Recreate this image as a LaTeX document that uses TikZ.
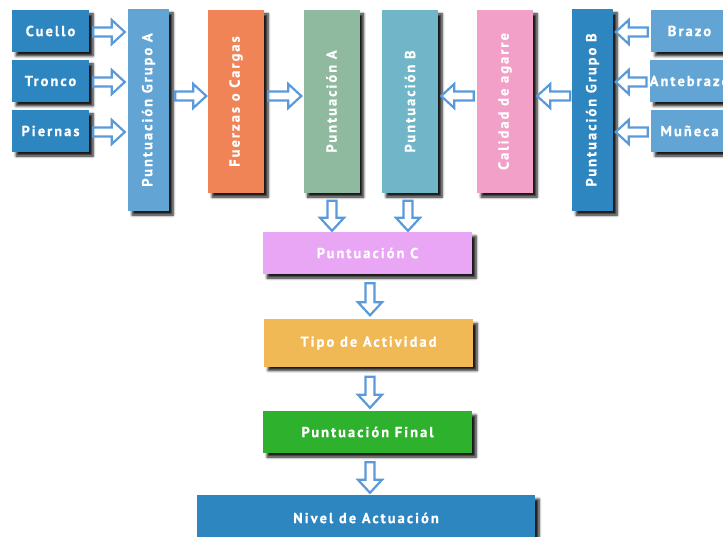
\documentclass[tikz,border=0pt]{standalone}
\usepackage{fontspec}
\newfontfamily\lblfont{PT Sans}[LetterSpace=14, BoldFeatures={FakeBold=0.6}]
\usetikzlibrary{calc,shadows.blur}
\definecolor{dblue}{HTML}{2E86C1}
\definecolor{lblue}{HTML}{62A5D5}
\definecolor{orangeF}{HTML}{F08456}
\definecolor{sageA}{HTML}{8FBAA0}
\definecolor{tealB}{HTML}{70B6C8}
\definecolor{pinkC}{HTML}{F3A0C8}
\definecolor{violetC}{HTML}{E8A6F4}
\definecolor{goldT}{HTML}{F0B955}
\definecolor{greenF}{HTML}{2EB22E}
\definecolor{arrowblue}{HTML}{5A9ADB}
\newcommand\blockarrow[2]{%
  \path ($(#2)!13pt!(#1)$) coordinate (bah);
  \draw[barrowstyle] ($(#1)!4.5pt!90:(#2)$) -- ($(bah)!4.5pt!90:(#2)$) -- ($(bah)!12pt!90:(#2)$) -- (#2) -- ($(bah)!12pt!-90:(#2)$) -- ($(bah)!4.5pt!-90:(#2)$) -- ($(#1)!4.5pt!-90:(#2)$) -- cycle;}
\tikzset{
  box/.style={fill=#1, draw=none, inner sep=0pt, text=white,
    font=\lblfont\bfseries\fontsize{14.5}{17}\selectfont,
    blur shadow={shadow xshift=4pt, shadow yshift=-4pt, shadow blur steps=6, shadow blur radius=2.5pt, shadow opacity=90}},
  hbox/.style={box=#1, minimum width=77pt, minimum height=42pt},
  vbox/.style={box=#1, minimum width=56pt, minimum height=183pt},
  gbox/.style={box=#1, minimum width=41pt, minimum height=202pt},
  wbox/.style={box=#1, minimum width=209pt, minimum height=42pt},
  barrowstyle/.style={draw=arrowblue, fill=white, line width=2.2pt, line join=miter},
}
\begin{document}
\begin{tikzpicture}[x=1pt,y=-1pt]
\useasboundingbox (0,0) rectangle (723,537);
% left inputs
\node[hbox=dblue] (cuello) at (50.5,31) {Cuello};
\node[hbox=dblue] (tronco) at (50.5,81) {Tronco};
\node[hbox=dblue] (piernas) at (50.5,131) {Piernas};
\node[gbox=lblue] (grupoA) at (148.5,110) {\rotatebox{90}{Puntuación Grupo A}};
\node[vbox=orangeF] (fuerzas) at (236,101.5) {\rotatebox{90}{Fuerzas o Cargas}};
\node[vbox=sageA] (puntA) at (331.5,101.5) {\rotatebox{90}{Puntuación A}};
\node[vbox=tealB] (puntB) at (410,101.5) {\rotatebox{90}{Puntuación B}};
\node[vbox=pinkC] (calidad) at (505,101.5) {\rotatebox{90}{Calidad de agarre}};
\node[gbox=dblue] (grupoB) at (592.5,110) {\rotatebox{90}{Puntuación Grupo B}};
\node[hbox=lblue] (brazo) at (689.5,31) {Brazo};
\node[hbox=lblue] (antebrazo) at (689.5,81) {Antebrazo};
\node[hbox=lblue] (muneca) at (689.5,131) {Muñeca};
% lower chain
\node[wbox=violetC] (puntC) at (367.5,253) {Puntuación C};
\node[wbox=goldT, minimum height=47pt] (tipo) at (368.5,343) {Tipo de Actividad};
\node[wbox=greenF] (final) at (367.5,432) {Puntuación Final};
\node[box=dblue, minimum width=338pt, minimum height=46pt] (nivel) at (366,518) {Nivel de Actuación};
% arrow end points
\foreach \n in {cuello,tronco,piernas}{
  \path ([xshift=4pt,yshift=-1pt]\n.east) coordinate (\n-s)
        ($(grupoA.west |- \n.east)+(-3,1)$) coordinate (\n-t);
  \blockarrow{\n-s}{\n-t}
}
\foreach \n in {brazo,antebrazo,muneca}{
  \path ([xshift=-3pt,yshift=-1pt]\n.west) coordinate (\n-s)
        ($(grupoB.east |- \n.west)+(2.5,1)$) coordinate (\n-t);
  \blockarrow{\n-s}{\n-t}
}
\path ($(grupoA.east |- 0,96)+(6,0)$) coordinate (ga-s)
      ($(fuerzas.west |- 0,96)+(-1.5,0)$) coordinate (ga-t);
\blockarrow{ga-s}{ga-t}
\path ($(fuerzas.east |- 0,96)+(4,0)$) coordinate (fa-s)
      ($(puntA.west |- 0,96)+(-2,0)$) coordinate (fa-t);
\blockarrow{fa-s}{fa-t}
\path ($(calidad.west |- 0,96)+(-3,0)$) coordinate (cb-s)
      ($(puntB.east |- 0,96)+(3,0)$) coordinate (cb-t);
\blockarrow{cb-s}{cb-t}
\path ($(grupoB.west |- 0,96)+(-1.5,0)$) coordinate (gb-s)
      ($(calidad.east |- 0,96)+(4,0)$) coordinate (gb-t);
\blockarrow{gb-s}{gb-t}
\path ($(puntA.south)+(0.5,7.5)$) coordinate (pa-s)
      ($(puntC.north -| pa-s)+(0,-1)$) coordinate (pa-t);
\blockarrow{pa-s}{pa-t}
\path ($(puntB.south)+(-2,7.5)$) coordinate (pb-s)
      ($(puntC.north -| pb-s)+(0,-1)$) coordinate (pb-t);
\blockarrow{pb-s}{pb-t}
\path ($(puntC.south)+(2.5,9)$) coordinate (pc-s)
      ($(tipo.north -| pc-s)+(0,-4)$) coordinate (pc-t);
\blockarrow{pc-s}{pc-t}
\path ($(tipo.south)+(1.5,10)$) coordinate (ti-s)
      ($(final.north -| ti-s)+(0,-3)$) coordinate (ti-t);
\blockarrow{ti-s}{ti-t}
\path ($(final.south)+(2.5,9)$) coordinate (fi-s)
      ($(nivel.north -| fi-s)+(0,-2)$) coordinate (fi-t);
\blockarrow{fi-s}{fi-t}
\end{tikzpicture}
\end{document}
